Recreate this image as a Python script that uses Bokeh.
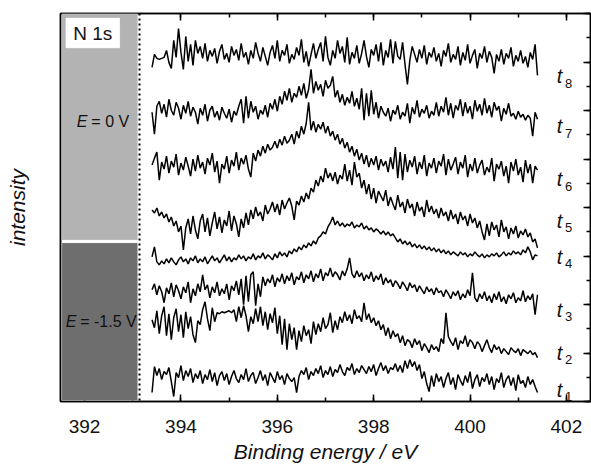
from bokeh.plotting import figure
from bokeh.models import (Range1d, LinearAxis, SingleIntervalTicker, Label, Span, BoxAnnotation,
                          CustomJSTickFormatter)
from bokeh.embed import file_html
from bokeh.resources import INLINE
import numpy as np

# N 1s spectra, binding energy grid (eV)
energy = np.round(393.4 + 0.05 * np.arange(161), 2)

# stacked intensities (arb. units, offset per acquisition time)
t8 = [335, 348, 344, 343, 344, 345, 352, 340, 334, 362, 345, 374, 350, 333, 366, 341, 358, 337, 362, 349,
      356, 344, 359, 341, 352, 346, 354, 339, 351, 358, 343, 349, 340, 356, 347, 353, 342, 359, 345, 350,
      338, 352, 344, 360, 349, 341, 355, 346, 337, 350, 357, 344, 362, 341, 352, 347, 358, 339, 348, 343,
      355, 347, 363, 340, 351, 336, 348, 359, 344, 353, 360, 341, 366, 345, 337, 352, 344, 362, 349, 356,
      340, 365, 338, 350, 344, 357, 339, 349, 362, 346, 335, 353, 347, 358, 341, 360, 337, 352, 345, 363,
      339, 361, 346, 343, 360, 338, 318, 342, 356, 348, 340, 353, 344, 357, 338, 350, 345, 355, 341, 349,
      336, 352, 346, 359, 340, 348, 343, 356, 337, 350, 342, 358, 339, 347, 353, 334, 349, 344, 356, 340,
      351, 345, 329, 348, 341, 353, 338, 349, 344, 355, 336, 347, 341, 352, 339, 346, 335, 350, 343, 358,
      327]
t7 = [290, 268, 296, 301, 289, 298, 285, 303, 292, 287, 300, 294, 283, 297, 289, 301, 286, 295, 290, 278,
      294, 287, 298, 281, 292, 296, 285, 291, 282, 295, 289, 284, 293, 280, 291, 287, 296, 303, 279, 306,
      284, 301, 290, 296, 283, 292, 288, 297, 285, 299, 293, 303, 291, 306, 298, 311, 302, 314, 300, 309,
      305, 316, 307, 319, 304, 313, 333, 309, 321, 312, 318, 306, 322, 314, 317, 326, 305, 312, 300, 308,
      297, 305, 299, 311, 296, 304, 293, 314, 282, 309, 286, 312, 288, 300, 284, 296, 290, 286, 294, 281,
      292, 288, 297, 283, 290, 286, 299, 279, 295, 288, 302, 285, 293, 289, 297, 284, 291, 287, 300, 286,
      296, 290, 305, 287, 299, 284, 297, 292, 303, 286, 300, 289, 296, 283, 302, 291, 298, 287, 304, 289,
      297, 285, 300, 292, 296, 281, 294, 288, 299, 286, 289, 283, 291, 285, 288, 282, 287, 284, 266, 290,
      283]
t6 = [237, 244, 250, 222, 240, 233, 246, 229, 241, 235, 248, 227, 239, 232, 245, 236, 226, 243, 231, 247,
      234, 240, 228, 244, 237, 249, 230, 241, 219, 238, 233, 246, 229, 242, 236, 250, 232, 244, 238, 247,
      233, 225, 249, 241, 252, 246, 256, 249, 258, 252, 255, 261, 254, 263, 257, 266, 259, 262, 268, 258,
      271, 264, 276, 268, 279, 300, 272, 281, 270, 278, 273, 280, 269, 276, 266, 271, 262, 268, 258, 264,
      254, 260, 250, 256, 246, 253, 242, 249, 238, 247, 235, 244, 237, 246, 232, 243, 236, 241, 230, 245,
      233, 255, 224, 250, 222, 248, 230, 242, 235, 246, 228, 240, 233, 247, 226, 239, 234, 244, 229, 241,
      236, 248, 227, 243, 232, 238, 245, 228, 240, 234, 247, 225, 238, 231, 244, 229, 237, 242, 227, 235,
      230, 244, 221, 238, 233, 241, 226, 236, 219, 240, 231, 243, 227, 235, 220, 242, 229, 238, 219, 236,
      232]
t5 = [192, 189, 194, 186, 190, 184, 188, 180, 185, 176, 181, 170, 176, 152, 174, 183, 168, 186, 172, 163,
      181, 188, 170, 184, 166, 179, 190, 173, 185, 169, 182, 176, 191, 171, 186, 178, 165, 183, 174, 189,
      177, 192, 183, 195, 186, 190, 181, 197, 188, 193, 200, 190, 198, 187, 202, 193, 199, 204, 196, 182,
      201, 197, 206, 200, 209, 203, 214, 210, 222, 216, 226, 220, 234, 224, 229, 221, 230, 218, 227, 223,
      238, 221, 232, 217, 240, 225, 229, 214, 222, 208, 218, 203, 214, 199, 211, 206, 201, 212, 196, 205,
      198, 192, 207, 195, 200, 189, 203, 194, 198, 186, 200, 191, 195, 185, 202, 190, 196, 188, 193, 184,
      194, 186, 190, 181, 192, 183, 188, 178, 190, 182, 186, 176, 188, 179, 184, 174, 181, 170, 162, 178,
      166, 180, 172, 177, 165, 182, 170, 175, 163, 174, 168, 176, 164, 171, 167, 173, 165, 169, 160, 163,
      154]
t4 = [145, 155, 140, 137, 141, 138, 143, 139, 144, 140, 137, 142, 145, 140, 143, 138, 144, 141, 146, 139,
      143, 140, 145, 138, 142, 146, 141, 144, 139, 143, 147, 141, 145, 140, 144, 142, 147, 143, 146, 141,
      145, 143, 148, 142, 146, 144, 149, 143, 147, 145, 142, 148, 144, 150, 146, 149, 145, 151, 148, 153,
      150, 155, 152, 157, 154, 159, 156, 161, 158, 164, 166, 170, 168, 175, 179, 185, 177, 181, 176, 179,
      175, 178, 176, 180, 174, 177, 175, 179, 173, 176, 172, 174, 170, 173, 171, 168, 171, 167, 170, 166,
      168, 164, 160, 163, 158, 161, 157, 160, 155, 158, 154, 157, 153, 156, 152, 155, 151, 154, 150, 153,
      149, 152, 148, 151, 147, 150, 148, 146, 150, 147, 149, 145, 148, 146, 150, 147, 145, 148, 144, 147,
      145, 148, 146, 149, 145, 147, 150, 146, 149, 147, 151, 148, 150, 147, 152, 149, 155, 150, 142, 147,
      146]
t3 = [112, 118, 107, 116, 110, 99, 114, 108, 119, 105, 117, 111, 103, 115, 109, 120, 99, 113, 106, 118,
      110, 127, 112, 117, 104, 115, 109, 120, 106, 113, 108, 118, 102, 116, 111, 121, 107, 123, 97, 126,
      100, 127, 130, 96, 118, 105, 125, 116, 123, 119, 127, 115, 124, 120, 128, 118, 126, 121, 129, 117,
      125, 122, 130, 119, 127, 123, 131, 120, 128, 124, 133, 121, 129, 126, 134, 125, 130, 127, 122, 131,
      126, 133, 144, 128, 124, 131, 125, 129, 121, 127, 123, 130, 120, 126, 122, 128, 117, 124, 119, 122,
      115, 121, 118, 113, 120, 116, 111, 119, 114, 117, 110, 116, 112, 108, 115, 110, 113, 107, 114, 109,
      111, 105, 112, 108, 103, 110, 106, 111, 102, 108, 104, 112, 106, 129, 104, 100, 108, 103, 110, 101,
      106, 99, 108, 102, 110, 100, 105, 98, 107, 103, 109, 99, 104, 101, 111, 100, 106, 102, 108, 87,
      107]
t2 = [82, 74, 91, 68, 86, 95, 66, 88, 62, 84, 93, 70, 87, 64, 90, 73, 85, 67, 59, 81,
      77, 92, 100, 83, 71, 94, 80, 89, 88, 90, 89, 90, 91, 89, 92, 80, 95, 84, 96, 86,
      70, 85, 78, 93, 80, 95, 76, 90, 72, 88, 79, 94, 68, 86, 57, 83, 52, 78, 62, 74,
      52, 71, 60, 76, 66, 72, 58, 80, 67, 78, 70, 84, 73, 77, 89, 69, 81, 72, 85, 79,
      90, 81, 87, 78, 92, 83, 86, 80, 99, 82, 88, 79, 84, 76, 81, 72, 77, 66, 74, 63,
      71, 65, 68, 59, 66, 56, 62, 60, 54, 63, 57, 61, 51, 58, 54, 49, 57, 52, 55, 50,
      63, 58, 89, 65, 60, 56, 64, 52, 61, 58, 66, 55, 62, 59, 53, 60, 57, 50, 56, 62,
      54, 49, 57, 52, 55, 48, 53, 50, 47, 54, 51, 49, 53, 46, 52, 50, 48, 51, 47, 49,
      44]
t1 = [9, 35, 26, 33, 22, 30, 27, 34, 20, 5, 29, 24, 36, 21, 31, 25, 33, 19, 28, 23,
      31, 18, 27, 22, 32, 20, 29, 16, 26, 30, 21, 28, 17, 25, 31, 23, 19, 27, 22, 33,
      20, 26, 29, 18, 24, 31, 21, 27, 16, 29, 24, 19, 30, 22, 26, 17, 28, 23, 20, 24,
      9, 25, 31, 27, 34, 22, 30, 26, 33, 28, 36, 24, 31, 27, 35, 25, 32, 29, 37, 30,
      26, 34, 31, 38, 27, 33, 29, 36, 32, 28, 35, 30, 37, 26, 33, 39, 31, 36, 28, 34,
      32, 38, 30, 36, 29, 41, 33, 42, 35, 40, 31, 37, 23, 30, 18, 10, 26, 15, 28, 20,
      25, 14, 23, 29, 17, 24, 12, 27, 21, 16, 26, 19, 30, 13, 22, 27, 15, 24, 20, 28,
      17, 25, 12, 23, 19, 29, 14, 22, 26, 16, 24, 11, 27, 18, 21, 14, 25, 17, 22, 15,
      9]

spectra = [t1, t2, t3, t4, t5, t6, t7, t8]
series_digits = ["1", "2", "3", "4", "5", "6", "7", "8"]

# baseline heights of the t_n tags on the right
tag_y = [12, 49, 92, 145, 181, 223, 276, 326]

FONT = "Liberation Sans"
INK = "#111111"
X0, X1, Y0, Y1 = 391.5, 402.5, 0, 389

p = figure(width=591, height=465, x_range=Range1d(X0, X1), y_range=Range1d(Y0, Y1),
           output_backend="svg", toolbar_location=None,
           min_border_left=60, min_border_right=1, min_border_top=13, min_border_bottom=63)
p.background_fill_color = "white"
p.border_fill_color = "white"
p.grid.visible = False
p.outline_line_color = "black"
p.outline_line_width = 1.5
# tick scale for the right-hand frame edge (eight intensity divisions)
p.extra_y_ranges = {"div": Range1d(0, 8)}

# bottom axis
xa = p.xaxis[0]
xa.ticker = SingleIntervalTicker(interval=2, num_minor_ticks=2)
xa.major_tick_in = 7
xa.major_tick_out = 0
xa.minor_tick_in = 4
xa.minor_tick_out = 0
xa.axis_line_width = 1.5
xa.major_tick_line_width = 1.5
xa.minor_tick_line_width = 1.5
xa.major_label_text_font = FONT
xa.major_label_text_font_size = "19px"
xa.major_label_text_color = INK
xa.major_label_standoff = 18
xa.axis_label = "Binding energy / eV"
xa.axis_label_text_font = FONT
xa.axis_label_text_font_style = "italic"
xa.axis_label_text_font_size = "21px"
xa.axis_label_text_color = INK
xa.axis_label_standoff = 4

# left axis: title only
ya = p.yaxis[0]
ya.major_tick_in = 0
ya.major_tick_out = 0
ya.minor_tick_in = 0
ya.minor_tick_out = 0
ya.formatter = CustomJSTickFormatter(code="return ' '")
ya.major_label_text_font_size = "8px"
ya.major_label_standoff = 0
ya.axis_line_width = 1.5
ya.axis_label = "intensity"
ya.axis_label_text_font = FONT
ya.axis_label_text_font_style = "italic"
ya.axis_label_text_font_size = "21px"
ya.axis_label_text_color = INK
ya.axis_label_standoff = 26

# tick-only mirror axes on the top and right frame edges (labels kept transparent)
mirror = dict(major_tick_in=7, major_tick_out=0, minor_tick_in=4, minor_tick_out=0,
              major_label_standoff=0, major_label_text_font_size="4px", major_label_text_alpha=0,
              axis_line_color="black", major_tick_line_color="black", minor_tick_line_color="black",
              axis_line_width=1.5, major_tick_line_width=1.5, minor_tick_line_width=1.5)
p.add_layout(LinearAxis(ticker=SingleIntervalTicker(interval=2, num_minor_ticks=2), **mirror), "above")
p.add_layout(LinearAxis(y_range_name="div", ticker=SingleIntervalTicker(interval=1, num_minor_ticks=2),
                        **mirror), "right")

# potential regions
p.add_layout(BoxAnnotation(left=391.53, right=393.1, bottom=162, top=389,
                           fill_color="#b3b3b3", fill_alpha=1, line_color="#dcdcdc", line_width=1))
p.add_layout(BoxAnnotation(left=391.53, right=393.1, bottom=1, top=159,
                           fill_color="#6e6e6e", fill_alpha=1, line_color="#cfcfcf", line_width=1))
p.add_layout(Span(location=393.14, dimension="height", line_color="black",
                  line_width=2, line_dash="2 3"))

# N 1s tag
p.add_layout(BoxAnnotation(left=391.6, right=392.74, bottom=354, top=385,
                           fill_color="white", fill_alpha=1, line_color="#808080", line_width=1))
p.add_layout(Label(x=392.17, y=369, text="N 1s", text_font=FONT, text_font_size="19px",
                   text_align="center", text_baseline="middle", text_color=INK))

# potential annotations
for ex, ey, rest in [(392.06, 281, "= 0 V"), (391.83, 80, "= -1.5 V")]:
    p.add_layout(Label(x=ex, y=ey, text="E", text_font=FONT, text_font_size="16px",
                       text_font_style="italic", text_align="right", text_baseline="middle",
                       text_color=INK))
    p.add_layout(Label(x=ex + 0.08, y=ey, text=rest, text_font=FONT, text_font_size="16px",
                       text_align="left", text_baseline="middle", text_color=INK))

# spectra
for ys in spectra:
    p.line(energy, ys, line_color="black", line_width=1.5)

# t_n tags
for d, ty in zip(series_digits, tag_y):
    p.add_layout(Label(x=401.8, y=ty, text="t", text_font=FONT, text_font_size="20px",
                       text_font_style="italic", text_align="left", text_baseline="alphabetic",
                       text_color=INK))
    p.add_layout(Label(x=401.97, y=ty - 7, text=d, text_font=FONT, text_font_size="13px",
                       text_align="left", text_baseline="alphabetic", text_color=INK))

open("out.html", "w").write(file_html(p, INLINE))
